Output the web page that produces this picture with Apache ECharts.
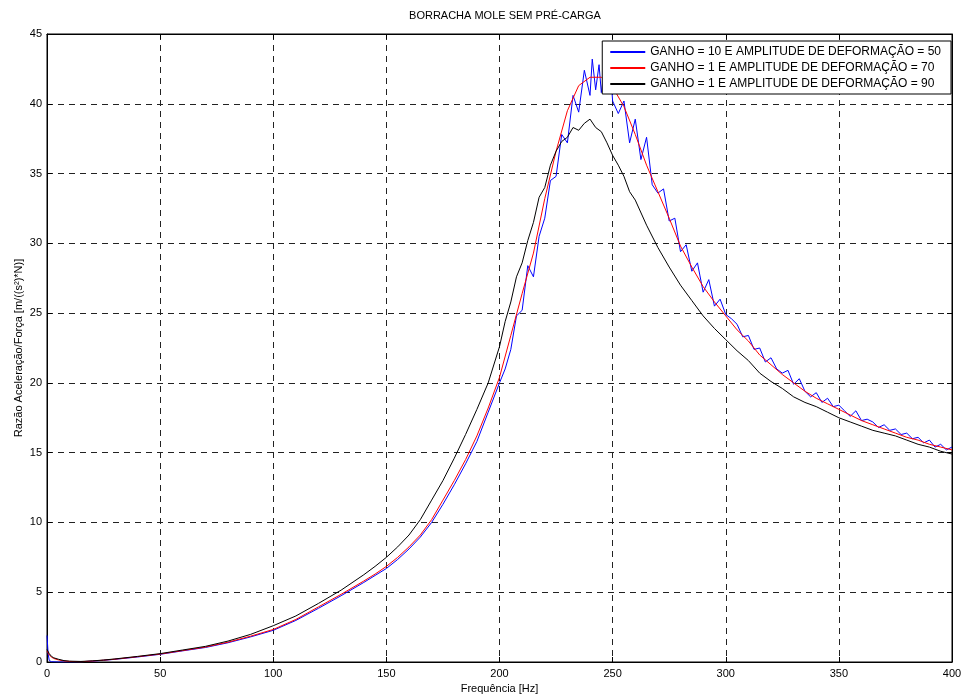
<!DOCTYPE html>
<html>
<head>
<meta charset="utf-8">
<title>BORRACHA MOLE SEM PRÉ-CARGA</title>
<script src="https://cdn.jsdelivr.net/npm/echarts@6/dist/echarts.min.js"></script>
<style>
  html, body { margin: 0; padding: 0; background: #fff; }
  #main { width: 963px; height: 695px; }
</style>
</head>
<body>
<div id="main"></div>
<script>
// ganho 10, amplitude 50 (azul)
var freqBlue = [0, 0.5, 1, 2, 5, 10, 15, 20, 25, 30, 40, 50, 60, 70, 80, 90, 100, 110, 120, 130, 140, 145, 150,
  155, 160, 165, 170, 175, 180, 185, 190, 195,
  200, 202.5, 205, 207.5, 210, 212.5, 215, 217.5, 220, 222.5, 225, 227.5, 230, 232.5, 235, 237.5,
  240, 241, 242.5, 244, 245, 246.5, 247.5, 249, 250, 252.5, 255, 257.5, 260, 262.5, 265, 267.5,
  270, 272.5, 275, 277.5, 280, 282.5, 285, 287.5, 290, 292.5, 295, 297.5, 300, 302.5, 305, 307.5,
  310, 312.5, 315, 317.5, 320, 322.5, 325, 327.5, 330, 332.5, 335, 337.5, 340, 342.5, 345, 347.5,
  350, 352.5, 355, 357.5, 360, 362.5, 365, 367.5, 370, 372.5, 375, 377.5, 380, 382.5, 385, 387.5,
  390, 392.5, 395, 397.5, 400];
var valBlue = [1.9, 0.6, 0.1, 0.02, 0.0, 0.0, 0.02, 0.06, 0.12, 0.19, 0.36, 0.55, 0.8, 1.04, 1.38, 1.8, 2.27, 2.98, 3.85, 4.75, 5.7, 6.2, 6.7,
  7.35, 8.1, 8.95, 10.0, 11.3, 12.7, 14.2, 15.8, 17.9,
  20.0, 21.0, 22.4, 24.8, 25.2, 28.4, 27.6, 30.5, 31.8, 34.5, 34.8, 37.8, 37.2, 40.6, 39.4, 42.4,
  40.6, 43.2, 41.0, 42.8, 40.8, 42.6, 41.2, 42.4, 40.2, 39.3, 40.2, 37.2, 38.9, 36.0, 37.6, 34.2,
  33.6, 33.9, 31.6, 31.8, 29.4, 29.9, 28.0, 28.6, 26.5, 27.4, 25.5, 26.0, 24.9, 24.6, 24.2, 23.3,
  23.4, 22.4, 22.5, 21.5, 21.8, 21.0, 20.7, 20.9, 19.9, 20.3, 19.4, 19.0, 19.3, 18.6, 18.9, 18.3,
  18.4, 18.0, 17.6, 18.0, 17.3, 17.4, 17.2, 16.8, 17.0, 16.6, 16.7, 16.3, 16.4, 16.0, 16.1, 15.7,
  15.9, 15.4, 15.6, 15.2, 15.4];

// ganho 1, amplitude 70 (vermelho)
var freqRed = [0, 1, 2, 3, 5, 7.5, 10, 15, 20, 25, 30, 40, 50, 60, 70, 80, 90, 100, 110, 120, 130, 140, 145, 150,
  155, 160, 165, 170, 175, 180, 185, 190, 195, 200, 205, 210, 215, 220, 225, 230, 235, 240, 245,
  250, 255, 260, 265, 270, 275, 280, 285, 290, 295, 300, 305, 310, 315, 320, 325, 330, 335, 340,
  345, 350, 355, 360, 365, 370, 375, 380, 385, 390, 395, 400];
var valRed = [0.8, 0.5, 0.35, 0.25, 0.15, 0.08, 0.04, 0.02, 0.07, 0.13, 0.2, 0.38, 0.57, 0.82, 1.07, 1.42, 1.85, 2.33, 3.05, 3.95, 4.85, 5.8, 6.3, 6.85,
  7.5, 8.25, 9.1, 10.2, 11.6, 13.0, 14.5, 16.2, 18.2, 20.4, 23.4, 26.4, 29.3, 33.2, 36.6, 39.5, 41.3, 41.9, 41.9,
  41.2, 39.8, 37.8, 35.6, 33.7, 31.8, 29.8, 28.3, 26.9, 25.8, 24.8, 23.8, 23.0, 22.0, 21.3, 20.6, 20.0, 19.4, 18.9,
  18.5, 18.1, 17.7, 17.3, 17.0, 16.7, 16.4, 16.1, 15.9, 15.6, 15.4, 15.2];

// ganho 1, amplitude 90 (preto)
var freqBlack = [0, 1, 2, 3, 5, 7.5, 10, 15, 20, 25, 30, 40, 50, 60, 70, 80, 90, 100, 110, 120, 130, 140, 145, 150,
  155, 160, 165, 170, 175, 180, 185, 190, 195,
  200, 202.5, 205, 207.5, 210, 212.5, 215, 217.5, 220, 222.5, 225, 227.5, 230, 232.5, 235, 237.5,
  240, 242.5, 245, 247.5, 250, 252.5, 255, 257.5, 260,
  265, 270, 275, 280, 285, 290, 295, 300, 305, 310, 315, 320, 325, 330, 335, 340, 345, 350,
  355, 360, 365, 370, 375, 380, 385, 390, 395, 400];
var valBlack = [0.9, 0.6, 0.4, 0.3, 0.2, 0.1, 0.06, 0.04, 0.08, 0.14, 0.22, 0.4, 0.6, 0.86, 1.12, 1.5, 1.98, 2.6, 3.3, 4.2, 5.15, 6.25, 6.85, 7.5,
  8.25, 9.1, 10.2, 11.6, 13.0, 14.6, 16.3, 18.1, 20.0,
  22.6, 24.4, 25.8, 27.6, 28.6, 30.2, 31.5, 33.3, 34.0, 35.6, 36.6, 37.3, 37.6, 38.3, 38.1, 38.6,
  38.9, 38.3, 38.0, 37.2, 36.3, 35.6, 34.8, 33.7, 33.1,
  31.3, 29.7, 28.3, 27.0, 25.9, 24.8, 23.9, 23.1, 22.3, 21.6, 20.7, 20.1, 19.6, 19.0, 18.6, 18.3, 17.9, 17.5,
  17.2, 16.9, 16.6, 16.4, 16.2, 15.9, 15.6, 15.4, 15.1, 14.9];

var xTicks = [0, 50, 100, 150, 200, 250, 300, 350, 400];
var yTicks = [0, 5, 10, 15, 20, 25, 30, 35, 40, 45];

var names = [
  'GANHO = 10 E AMPLITUDE DE DEFORMAÇÃO = 50',
  'GANHO = 1 E AMPLITUDE DE DEFORMAÇÃO = 70',
  'GANHO = 1 E AMPLITUDE DE DEFORMAÇÃO = 90'
];

function pairs(xs, ys) {
  var out = [];
  for (var i = 0; i < xs.length; i++) out.push([xs[i], ys[i]]);
  return out;
}

var font = 'Liberation Sans, Arial, Helvetica, sans-serif';
var myChart = echarts.init(document.getElementById('main'));

function xAx(pos, show) {
  return {
    type: 'value', position: pos, min: xTicks[0], max: xTicks[xTicks.length - 1],
    interval: xTicks[1] - xTicks[0],
    axisLine: { show: true, onZero: false, lineStyle: { color: '#000', width: 1 } },
    axisTick: { show: true, inside: true, length: 5, lineStyle: { color: '#000' } },
    axisLabel: { show: show, color: '#000', fontSize: 11, fontFamily: font, margin: 6 },
    splitLine: { show: show, lineStyle: { color: '#222', type: [6, 5], width: 1 } },
    name: show ? 'Frequência [Hz]' : '', nameLocation: 'middle', nameGap: 21, nameMoveOverlap: false,
    nameTextStyle: { color: '#000', fontSize: 11, fontFamily: font }
  };
}
function yAx(pos, show) {
  return {
    type: 'value', position: pos, min: yTicks[0], max: yTicks[yTicks.length - 1],
    interval: yTicks[1] - yTicks[0],
    axisLine: { show: true, onZero: false, lineStyle: { color: '#000', width: 1 } },
    axisTick: { show: true, inside: true, length: 5, lineStyle: { color: '#000' } },
    axisLabel: { show: show, color: '#000', fontSize: 11, fontFamily: font, margin: 5 },
    splitLine: { show: show, lineStyle: { color: '#222', type: [6, 5], width: 1 } },
    name: show ? 'Razão Aceleração/Força [m/((s²)*N)]' : '', nameLocation: 'middle', nameGap: 23,
    nameMoveOverlap: false,
    nameTextStyle: { color: '#000', fontSize: 11, fontFamily: font }
  };
}

var option = {
  animation: false,
  backgroundColor: '#fff',
  title: {
    text: 'BORRACHA MOLE SEM PRÉ-CARGA', left: 500, top: 5, textAlign: 'center',
    textStyle: { color: '#000', fontSize: 11, fontWeight: 'normal', fontFamily: font }
  },
  legend: {
    orient: 'vertical', right: 12, top: 41, data: names,
    backgroundColor: '#fff', borderColor: '#000', borderWidth: 1, borderRadius: 0,
    padding: [5, 10, 4, 7], itemWidth: 35, itemHeight: 14, itemGap: 4, z: 10,
    itemStyle: { opacity: 0 },
    textStyle: { color: '#000', fontSize: 12, fontFamily: font, padding: [0, 0, 0, 0] }
  },
  grid: { left: 47, right: 11, top: 34, bottom: 33, show: true, borderColor: '#000', borderWidth: 1,
    outerBoundsMode: 'none', containLabel: false },
  xAxis: [xAx('bottom', true), xAx('top', false)],
  yAxis: [yAx('left', true), yAx('right', false)],
  series: [
    { name: names[0], type: 'line', data: pairs(freqBlue, valBlue), symbol: 'none',
      lineStyle: { color: '#0000ff', width: 1 }, itemStyle: { color: '#0000ff' }, z: 3 },
    { name: names[1], type: 'line', data: pairs(freqRed, valRed), symbol: 'none',
      lineStyle: { color: '#ff0000', width: 1 }, itemStyle: { color: '#ff0000' }, z: 4 },
    { name: names[2], type: 'line', data: pairs(freqBlack, valBlack), symbol: 'none',
      lineStyle: { color: '#000000', width: 1 }, itemStyle: { color: '#000000' }, z: 5 }
  ]
};
myChart.setOption(option);
</script>
</body>
</html>
